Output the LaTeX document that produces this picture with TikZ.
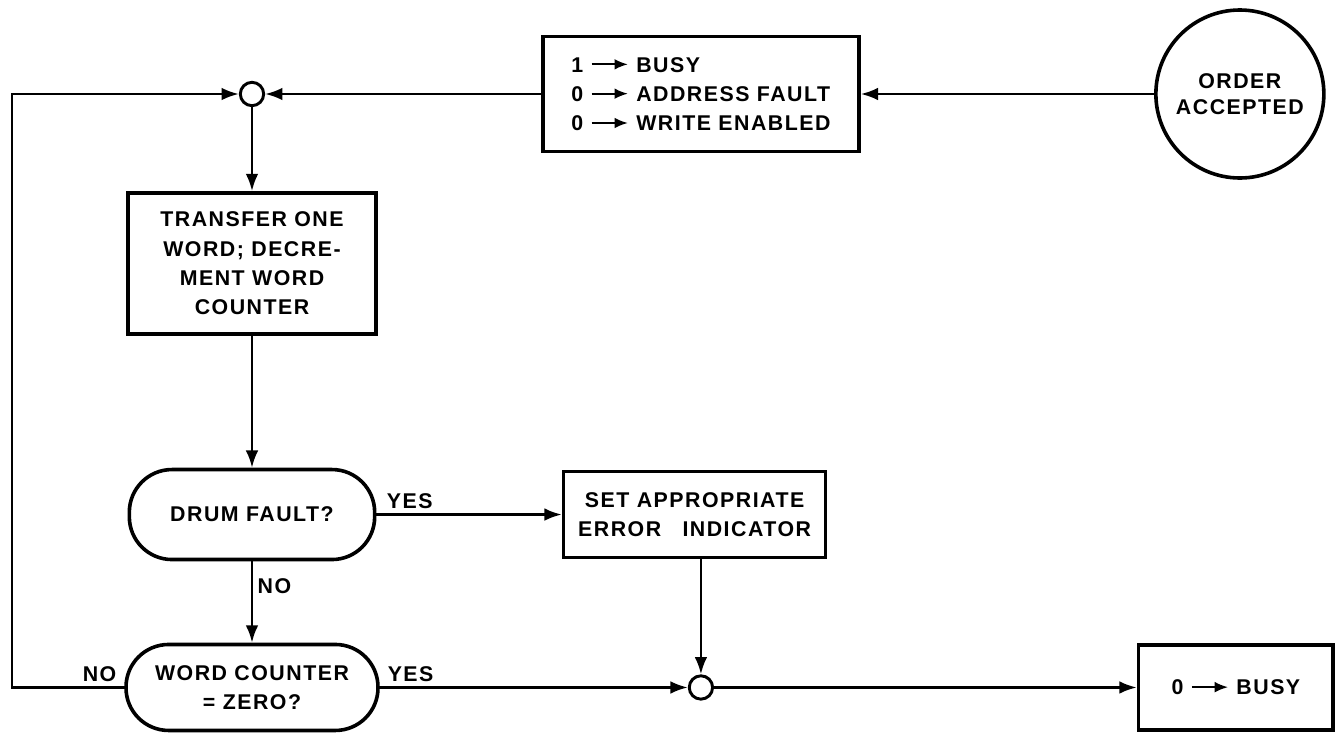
\documentclass[tikz,border=0pt]{standalone}
\usepackage{fontspec}
\setmainfont{Liberation Sans}[LetterSpace=7]
\usetikzlibrary{arrows.meta,positioning}

\newcommand{\bitarrow}{\tikz[baseline=-0.36em]\draw[line width=1.5pt,-{Latex[length=10pt,width=8pt]}] (0,0) -- (1.7em,0);}

\begin{document}
\begin{tikzpicture}[x=0.75pt, y=-0.75pt, >={Latex[length=13pt,width=9.5pt]}, line width=1.9pt, every node/.style={font=\fontsize{16}{22}\selectfont\bfseries}, box/.style={draw, line width=2.7pt, align=center, inner sep=0pt}, test/.style={box, rounded corners=32pt}, junc/.style={draw, circle, line width=2.2pt, minimum size=17.5pt, inner sep=0pt, fill=white}]
\useasboundingbox (0,0) rectangle (1335,736);
\coordinate (edge) at (12,0);
\node[junc] (j1) at (252,94) {};
\node[box, align=left, minimum width=237pt, minimum height=86pt, right=207pt of j1] (init) {1 \bitarrow\ BUSY\\0 \bitarrow\ ADDRESS FAULT\\0 \bitarrow\ WRITE ENABLED};
\node[draw, circle, line width=2.7pt, align=center, minimum size=126pt, inner sep=0pt, right=220pt of init, font=\fontsize{16}{19.5}\selectfont\bfseries] (order) {ORDER\\ACCEPTED};
\node[box, minimum width=186pt, minimum height=105.75pt, below=63pt of j1] (xfer) {TRANSFER ONE\\WORD; DECRE-\\MENT WORD\\COUNTER};
\node[test, minimum width=184pt, minimum height=67.5pt, below=99pt of xfer] (drum) {DRUM FAULT?};
\node[test, minimum width=189pt, minimum height=64.5pt, below=61pt of drum] (zero) {WORD COUNTER\\= ZERO?};
\node[box, minimum width=196.5pt, minimum height=64.5pt, right=139pt of drum] (err) {SET APPROPRIATE\\ERROR\quad INDICATOR};
\node[junc, right=231pt of zero] (j2) {};
\node[box, minimum width=146pt, minimum height=64pt, right=317pt of j2] (busy) {0 \bitarrow\ BUSY};
% connectors
\draw[->] (order) -- (init);
\draw[->] (init) -- (j1);
\draw[->] (j1) -- (xfer);
\draw[->] (xfer) -- (drum);
\draw[->] (drum) -- node[right, pos=0.3] {NO} (zero);
\draw[->] (drum) -- node[above, pos=0.18] {YES} (err);
\draw[->] (err.south -| j2) -- (j2);
\draw[->] (zero) -- node[above, pos=0.1] {YES} (j2);
\draw[->] (j2) -- (busy);
\draw[->] (zero.west) -- node[above, pos=0.22] {NO} (zero.west -| edge) |- (j1);
\end{tikzpicture}
\end{document}
